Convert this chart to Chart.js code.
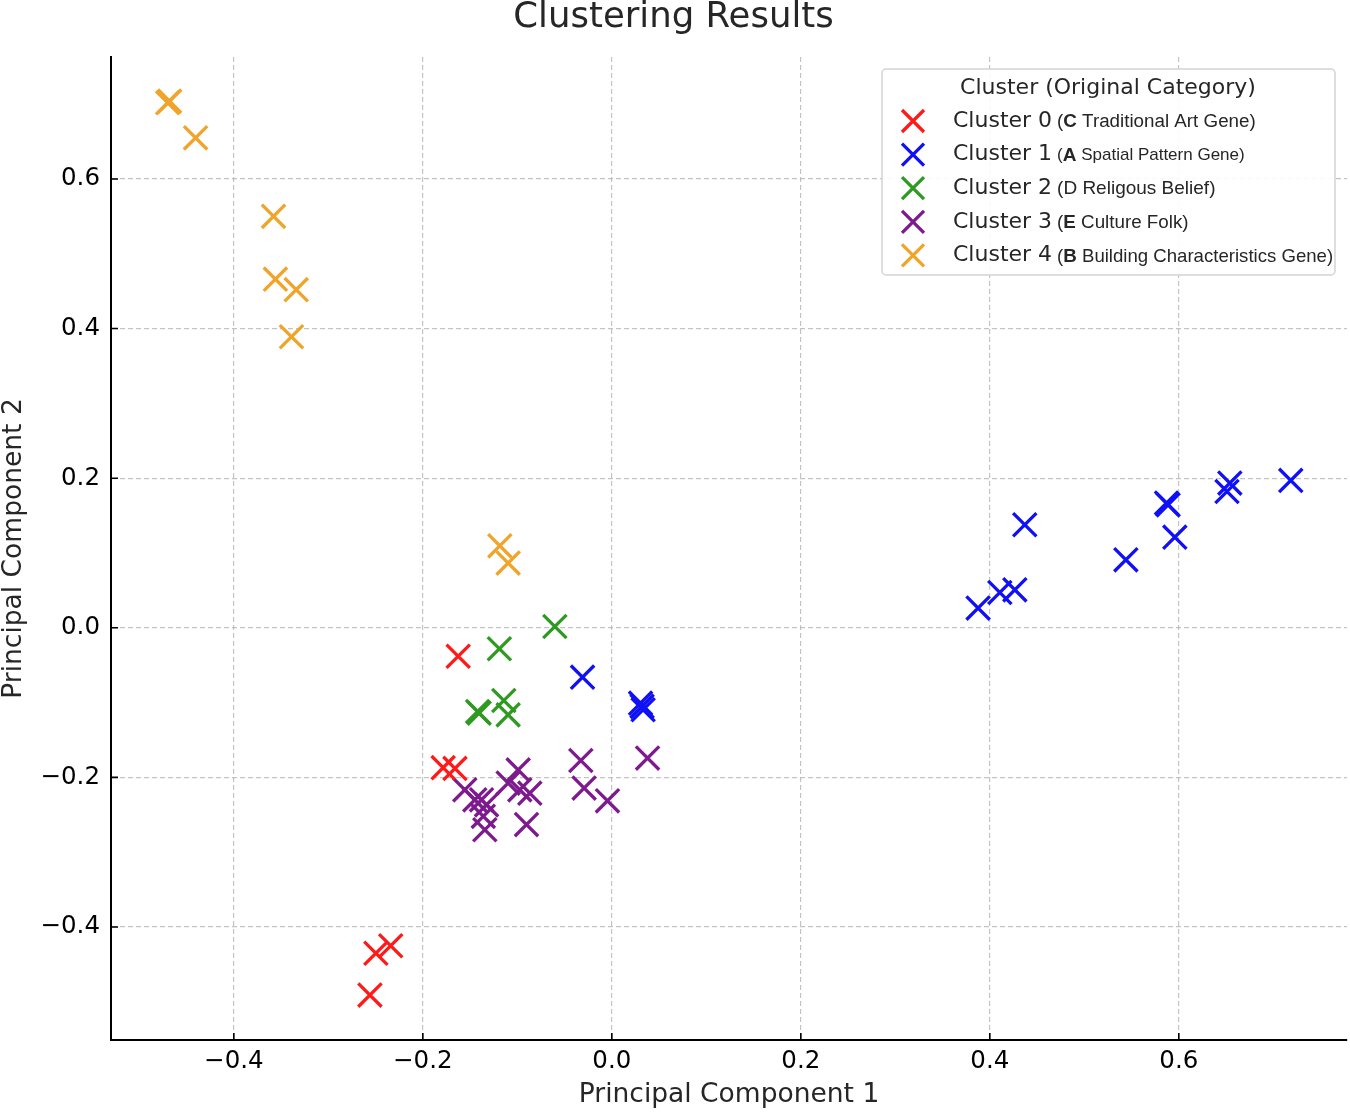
<!DOCTYPE html>
<html>
<head>
<meta charset="utf-8">
<script src="https://cdn.jsdelivr.net/npm/chart.js@4.4.1/dist/chart.umd.min.js"></script>
<style>
  html, body { margin: 0; padding: 0; background: #fff; }
  #wrap { width: 1350px; height: 1112px; }
</style>
</head>
<body>
<div id="wrap"><canvas id="clusters" width="1350" height="1112"></canvas></div>
<script>
// PCA coordinates, one [pc1, pc2] pair per document
const cluster0Points = [
  [-0.1626, -0.038], [-0.1785, -0.187], [-0.166, -0.188],
  [-0.2497, -0.435], [-0.234, -0.425], [-0.256, -0.491],
];
const cluster1Points = [
  [-0.031, -0.066], [0.0304, -0.1007], [0.0331, -0.1096], [0.032, -0.105],
  [0.3876, 0.0263], [0.4106, 0.0472], [0.4265, 0.0508], [0.437, 0.1377],
  [0.544, 0.0909], [0.5887, 0.1644], [0.587, 0.1667], [0.5958, 0.1212],
  [0.651, 0.1822], [0.654, 0.1934], [0.7185, 0.197],
];
const cluster2Points = [
  [-0.0603, 0.0017], [-0.119, -0.028], [-0.1404, -0.114], [-0.142, -0.112],
  [-0.1143, -0.0972], [-0.1097, -0.1163],
];
const cluster3Points = [
  [-0.0328, -0.1774], [0.0378, -0.1742], [-0.0293, -0.2143], [-0.0046, -0.2313],
  [-0.0991, -0.190], [-0.1097, -0.2076], [-0.0974, -0.2166], [-0.0868, -0.221],
  [-0.0903, -0.263], [-0.1556, -0.2166], [-0.1379, -0.230], [-0.1326, -0.2366],
  [-0.136, -0.252], [-0.1344, -0.270], [-0.145, -0.230],
];
const cluster4Points = [
  [-0.470, 0.702], [-0.468, 0.704], [-0.4405, 0.655], [-0.358, 0.550],
  [-0.356, 0.466], [-0.334, 0.452], [-0.339, 0.389],
  [-0.1185, 0.1096], [-0.1097, 0.0865],
];

const clusterNames = ['Cluster 0', 'Cluster 1', 'Cluster 2', 'Cluster 3', 'Cluster 4'];
const categoryCodes = ['C', 'A', 'D', 'E', 'B'];
const categoryNames = [
  'Traditional Art Gene', 'Spatial Pattern Gene', 'Religous Belief',
  'Culture Folk', 'Building Characteristics Gene',
];
const clusterColors = ['#ff1a1a', '#1010f5', '#2f9a22', '#7d1a8e', '#f0a42a'];

const xTickValues = [-0.4, -0.2, 0.0, 0.2, 0.4, 0.6];
const yTickValues = [-0.4, -0.2, 0.0, 0.2, 0.4, 0.6];
const xRange = [-0.530, 0.778];
const yRange = [-0.551, 0.763];

const FONT = '"DejaVu Sans", sans-serif';
const fmt = (v) => (v < 0 ? '\u2212' : '') + Math.abs(v).toFixed(1);

// matplotlib-style inward tick marks
const innerTicks = {
  id: 'innerTicks',
  afterDraw(chart) {
    const { ctx, chartArea, scales } = chart;
    ctx.save();
    ctx.strokeStyle = '#000';
    ctx.lineWidth = 1.6;
    ctx.beginPath();
    xTickValues.forEach(v => {
      const px = scales.x.getPixelForValue(v);
      ctx.moveTo(px, chartArea.bottom);
      ctx.lineTo(px, chartArea.bottom - 7);
    });
    yTickValues.forEach(v => {
      const py = scales.y.getPixelForValue(v);
      ctx.moveTo(chartArea.left, py);
      ctx.lineTo(chartArea.left + 7, py);
    });
    ctx.stroke();
    ctx.restore();
  }
};

// legend box with mixed-font labels
const clusterLegend = {
  id: 'clusterLegend',
  afterDraw(chart) {
    const ctx = chart.ctx;
    const box = { x: 882, y: 69, w: 453, h: 206 };
    const codeBold = [true, true, false, true, true];
    const codeSize = [18.8, 19, 19, 18.8, 18.8];
    const descSize = [18.8, 17, 19, 18.8, 18.6];
    ctx.save();
    ctx.beginPath();
    ctx.roundRect(box.x, box.y, box.w, box.h, 4);
    ctx.fillStyle = 'rgba(255,255,255,0.92)';
    ctx.fill();
    ctx.strokeStyle = '#d4d4d4';
    ctx.lineWidth = 1.5;
    ctx.stroke();

    ctx.fillStyle = '#262626';
    ctx.textBaseline = 'middle';
    ctx.textAlign = 'center';
    ctx.font = '22px ' + FONT;
    ctx.fillText('Cluster (Original Category)', 1108, 88);

    ctx.textAlign = 'left';
    clusterNames.forEach((name, i) => {
      const cy = 121 + i * 33.6;
      // marker
      ctx.strokeStyle = clusterColors[i];
      ctx.lineWidth = 3.3;
      ctx.beginPath();
      ctx.moveTo(913 - 11, cy - 11); ctx.lineTo(913 + 11, cy + 11);
      ctx.moveTo(913 + 11, cy - 11); ctx.lineTo(913 - 11, cy + 11);
      ctx.stroke();
      // text
      ctx.fillStyle = '#262626';
      ctx.font = '22px ' + FONT;
      let x = 953;
      ctx.fillText(name, x, cy);
      x += ctx.measureText(name).width + 5;
      const sans = '"Liberation Sans", Arial, sans-serif';
      ctx.font = descSize[i] + 'px ' + sans;
      ctx.fillText('(', x, cy + 1);
      x += ctx.measureText('(').width;
      ctx.font = (codeBold[i] ? 'bold ' : '') + codeSize[i] + 'px ' + sans;
      ctx.fillText(categoryCodes[i], x, cy + 1);
      x += ctx.measureText(categoryCodes[i]).width;
      ctx.font = descSize[i] + 'px ' + sans;
      ctx.fillText(' ' + categoryNames[i] + ')', x, cy + 1);
    });
    ctx.restore();
  }
};

const allPoints = [cluster0Points, cluster1Points, cluster2Points, cluster3Points, cluster4Points];

new Chart(document.getElementById('clusters'), {
  type: 'scatter',
  data: {
    datasets: allPoints.map((pts, i) => ({
      label: clusterNames[i],
      data: pts.map(([x, y]) => ({ x, y })),
      pointStyle: 'crossRot',
      pointRadius: 16.5,
      pointHoverRadius: 16.5,
      borderWidth: 3.3,
      borderColor: clusterColors[i],
      backgroundColor: clusterColors[i],
    }))
  },
  options: {
    responsive: false,
    animation: false,
    devicePixelRatio: 1,
    layout: { autoPadding: false, padding: { left: 0, right: 3, top: 0, bottom: 0 } },
    plugins: {
      legend: { display: false },
      tooltip: { enabled: false },
      title: {
        display: true,
        text: 'Clustering Results',
        color: '#262626',
        font: { family: FONT, size: 35.5, weight: 'normal', lineHeight: 1.0 },
        padding: { top: 0, bottom: 21.5 },
      },
    },
    scales: {
      x: {
        type: 'linear',
        min: xRange[0],
        max: xRange[1],
        afterBuildTicks: (scale) => { scale.ticks = xTickValues.map(v => ({ value: v })); },
        afterFit: (scale) => {
          scale.height = 72;
          scale.paddingLeft = 0;
          scale.paddingRight = 0;
        },
        ticks: {
          color: '#000',
          padding: 7,
          maxRotation: 0,
          font: { family: FONT, size: 24.5 },
          callback: fmt,
        },
        grid: { color: 'rgba(176,176,176,0.75)', lineWidth: 1.2, drawTicks: false },
        border: { display: true, color: '#000', width: 2, dash: [5, 3] },
        title: {
          display: true,
          text: 'Principal Component 1',
          color: '#262626',
          font: { family: FONT, size: 26.5, lineHeight: 1.2 },
          padding: { top: 0, bottom: 1 },
        },
      },
      y: {
        type: 'linear',
        min: yRange[0],
        max: yRange[1],
        afterBuildTicks: (scale) => { scale.ticks = yTickValues.map(v => ({ value: v })); },
        afterFit: (scale) => {
          scale.width = 111;
          scale.paddingTop = 0;
          scale.paddingBottom = 0;
        },
        ticks: {
          color: '#000',
          padding: 11,
          font: { family: FONT, size: 24.5 },
          callback: fmt,
        },
        grid: { color: 'rgba(176,176,176,0.75)', lineWidth: 1.2, drawTicks: false },
        border: { display: true, color: '#000', width: 2, dash: [5, 3] },
        title: {
          display: true,
          text: 'Principal Component 2',
          color: '#262626',
          font: { family: FONT, size: 26.5, lineHeight: 1.05 },
          padding: { top: 0, bottom: 0 },
        },
      },
    },
  },
  plugins: [innerTicks, clusterLegend],
});
</script>
</body>
</html>
